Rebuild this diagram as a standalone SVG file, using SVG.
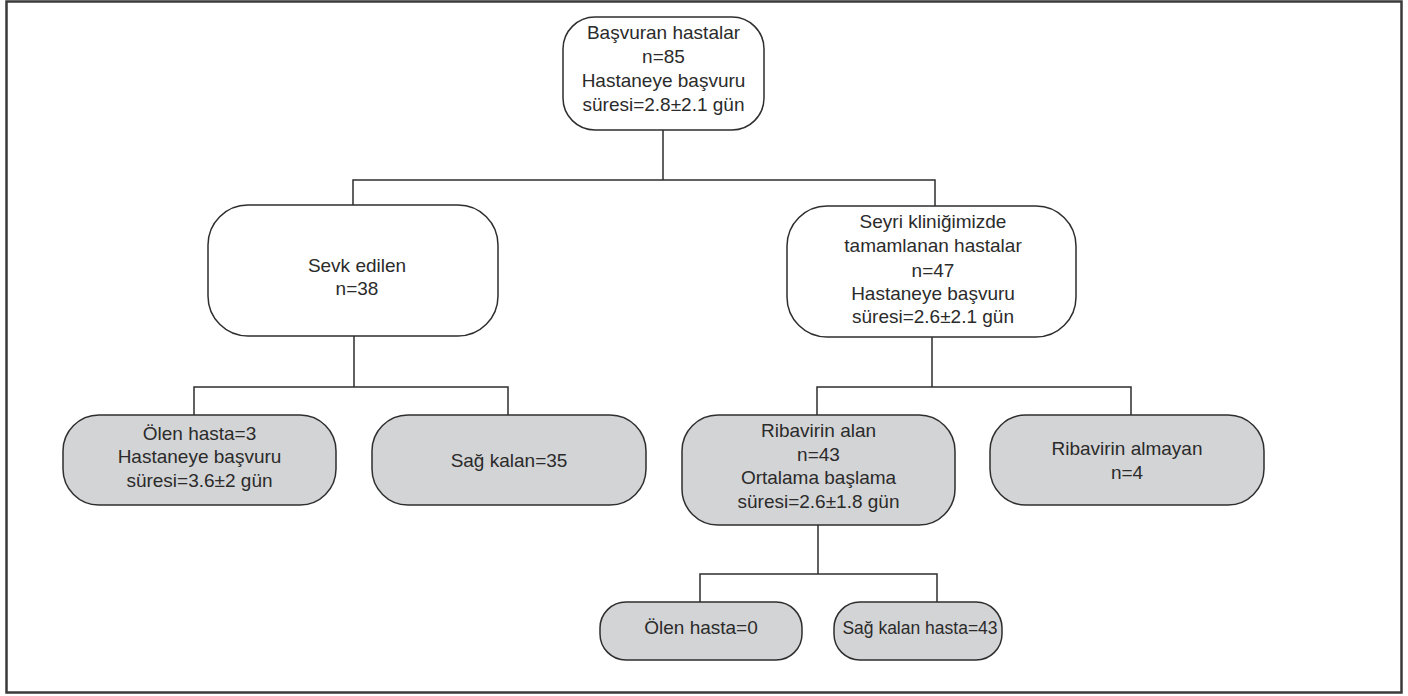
<svg xmlns="http://www.w3.org/2000/svg" width="1408" height="696" viewBox="0 0 1408 696">
<style>
.box{stroke:#2e2e2e;stroke-width:1.5}
.w{fill:#ffffff}
.g{fill:#d3d4d6}
.t{font-family:"Liberation Sans",Arial,sans-serif;font-size:19px;fill:#2b2b2b;text-anchor:middle}
.c{fill:none;stroke:#2e2e2e;stroke-width:1.5}
</style>
<rect x="0" y="0" width="1408" height="696" fill="#ffffff"/>
<rect x="6.5" y="1.5" width="1395" height="691" fill="none" stroke="#3a3a3a" stroke-width="2.5"/>
<g id="connectors">
<path class="c" d="M663 130 V180 M353 206 V180 H935 V206"/>
<path class="c" d="M354 336 V387 M194 415 V387 H508 V415"/>
<path class="c" d="M932 337 V387 M817 415 V387 H1131 V415"/>
<path class="c" d="M818 525 V574 M700 602 V574 H937 V602"/>
</g>
<g id="n_basvuran">
<rect class="box w" x="563" y="17" width="201" height="113" rx="32"/>
<text class="t" x="663.5" y="38.5">Başvuran hastalar</text>
<text class="t" x="663.5" y="62.5">n=85</text>
<text class="t" x="663.5" y="86.5">Hastaneye başvuru</text>
<text class="t" x="663.5" y="111">süresi=2.8±2.1 gün</text>
</g>
<g id="n_sevk">
<rect class="box w" x="208" y="205" width="290" height="131" rx="40"/>
<text class="t" x="357" y="272">Sevk edilen</text>
<text class="t" x="357" y="295">n=38</text>
</g>
<g id="n_seyri">
<rect class="box w" x="787" y="206" width="289" height="131" rx="40"/>
<text class="t" x="933" y="228">Seyri kliniğimizde</text>
<text class="t" x="933" y="252">tamamlanan hastalar</text>
<text class="t" x="933" y="277">n=47</text>
<text class="t" x="933" y="300">Hastaneye başvuru</text>
<text class="t" x="933" y="323">süresi=2.6±2.1 gün</text>
</g>
<g id="n_olen3">
<rect class="box g" x="63" y="415" width="273" height="90" rx="36"/>
<text class="t" x="199.5" y="440">Ölen hasta=3</text>
<text class="t" x="199.5" y="463">Hastaneye başvuru</text>
<text class="t" x="199.5" y="487">süresi=3.6±2 gün</text>
</g>
<g id="n_sag35">
<rect class="box g" x="372" y="415" width="274" height="90" rx="36"/>
<text class="t" x="509" y="467">Sağ kalan=35</text>
</g>
<g id="n_rib_alan">
<rect class="box g" x="682" y="415" width="273" height="110" rx="36"/>
<text class="t" x="818.5" y="437">Ribavirin alan</text>
<text class="t" x="818.5" y="461">n=43</text>
<text class="t" x="818.5" y="484">Ortalama başlama</text>
<text class="t" x="818.5" y="508">süresi=2.6±1.8 gün</text>
</g>
<g id="n_rib_almayan">
<rect class="box g" x="990" y="415" width="274" height="90" rx="36"/>
<text class="t" x="1127" y="455">Ribavirin almayan</text>
<text class="t" x="1127" y="479">n=4</text>
</g>
<g id="n_olen0">
<rect class="box g" x="600" y="602" width="202" height="58" rx="26"/>
<text class="t" x="701" y="634">Ölen hasta=0</text>
</g>
<g id="n_sag43">
<rect class="box g" x="834" y="602" width="168" height="58" rx="26"/>
<text class="t" x="920" y="634" style="font-size:17.5px">Sağ kalan hasta=43</text>
</g>
</svg>
